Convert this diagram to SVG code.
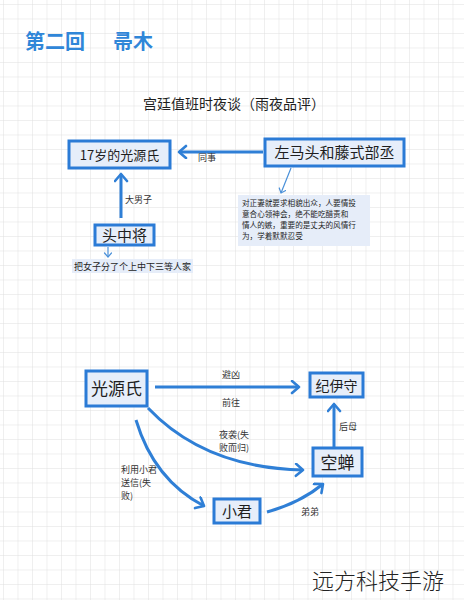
<svg xmlns="http://www.w3.org/2000/svg" width="464" height="600" viewBox="0 0 464 600">
<defs>
<pattern id="grid" width="14.5" height="14.5" patternUnits="userSpaceOnUse" x="3" y="4">
<path d="M14.5,0 L0,0 L0,14.5" fill="none" stroke="#e0e0e0" stroke-width="1"/>
</pattern>
<marker id="ah" markerUnits="userSpaceOnUse" markerWidth="16" markerHeight="16" refX="9" refY="7" orient="auto">
<path d="M2,1 L9,7 L2,13" fill="none" stroke="#2f7fd6" stroke-width="2.6" stroke-linecap="round" stroke-linejoin="round"/>
</marker>
<marker id="ahs" markerUnits="userSpaceOnUse" markerWidth="10" markerHeight="10" refX="5" refY="4" orient="auto">
<path d="M1,0.5 L5,4 L1,7.5" fill="none" stroke="#4a90d9" stroke-width="1.2" stroke-linecap="round"/>
</marker>
</defs>
<style>
.node rect{fill:#e6eefa;stroke:#2b7bd6;stroke-width:3}
.t{font-family:"Noto Sans CJK SC","Noto Sans",sans-serif;fill:#1e1e1e}
.lbl{font-family:"Noto Sans CJK SC","Noto Sans",sans-serif;fill:#333;font-size:9px}
.conn path{fill:none;stroke:#2f7fd6;stroke-width:3}
.conn path.thin{fill:none;stroke:#4a90d9;stroke-width:1.2}
.note{fill:#e6edf9}
</style>
<rect width="464" height="600" fill="#ffffff"/>
<rect width="464" height="600" fill="url(#grid)"/>

<text x="25" y="49" font-family="'Noto Sans CJK SC',sans-serif" font-size="20" font-weight="700" fill="#2f86d8">第二回</text>
<text x="113" y="49" font-family="'Noto Sans CJK SC',sans-serif" font-size="20" font-weight="700" fill="#2f86d8">帚木</text>
<text x="143" y="109" class="t" font-size="14">宫廷值班时夜谈（雨夜品评）</text>

<g id="n_genji17" class="node">
<rect x="69" y="141" width="101" height="27"/>
<text x="119.5" y="160" class="t" font-size="13" text-anchor="middle">17岁的光源氏</text>
</g>
<g id="n_zuomatou" class="node">
<rect x="265" y="139" width="139" height="27"/>
<text x="334.5" y="158" class="t" font-size="15" text-anchor="middle">左马头和藤式部丞</text>
</g>
<g id="n_touzhongjiang" class="node">
<rect x="95" y="225" width="59" height="20"/>
<text x="124.5" y="240.5" class="t" font-size="15" text-anchor="middle">头中将</text>
</g>
<g id="note_zuomatou">
<rect x="238" y="195" width="132" height="51" class="note"/>
<text class="t" font-size="7.6">
<tspan x="242" y="206">对正妻就要求相貌出众，人要情投</tspan>
<tspan x="242" y="217">意合心领神会，绝不能吃醋责和</tspan>
<tspan x="242" y="228">情人的嫉，重要的是丈夫的风情行</tspan>
<tspan x="242" y="239">为，学着默默忍受</tspan>
</text>
</g>
<g id="note_touzhongjiang">
<rect x="72" y="259" width="121" height="14" class="note"/>
<text x="74" y="270" class="t" font-size="9">把女子分了个上中下三等人家</text>
</g>

<g id="n_genji" class="node">
<rect x="86" y="371" width="61" height="35"/>
<text x="116.5" y="395" class="t" font-size="17" text-anchor="middle">光源氏</text>
</g>
<g id="n_kiinokami" class="node">
<rect x="310" y="373" width="53" height="24"/>
<text x="336.5" y="390.5" class="t" font-size="14" text-anchor="middle">纪伊守</text>
</g>
<g id="n_utsusemi" class="node">
<rect x="313" y="448" width="49" height="28"/>
<text x="337.5" y="468.5" class="t" font-size="17" text-anchor="middle">空蝉</text>
</g>
<g id="n_kogimi" class="node">
<rect x="214" y="499" width="46" height="24"/>
<text x="237" y="516.5" class="t" font-size="15" text-anchor="middle">小君</text>
</g>

<g id="connectors" class="conn">
<path d="M263,152 L179,152" marker-end="url(#ah)"/>
<path d="M121,218 L121,174" marker-end="url(#ah)"/>
<path d="M291,168 L281,193" class="thin" marker-end="url(#ahs)"/>
<path d="M108,247 L108,257" class="thin" marker-end="url(#ahs)"/>
<path d="M155,387 L299,387" marker-end="url(#ah)"/>
<path d="M334,447 L334,404" marker-end="url(#ah)"/>
<path d="M148,408 Q205,468 303,470" marker-end="url(#ah)"/>
<path d="M136,420 Q154,480 204,506" marker-end="url(#ah)"/>
<path d="M267,512 Q300,503 323,484" marker-end="url(#ah)"/>
<text x="198" y="161" class="lbl">同事</text>
<text x="125" y="203" class="lbl">大男子</text>
<text x="222" y="378" class="lbl">避凶</text>
<text x="222" y="406" class="lbl">前往</text>
<text x="339" y="430" class="lbl">后母</text>
<text class="lbl"><tspan x="219" y="438">夜袭(失</tspan><tspan x="219" y="451">败而归)</tspan></text>
<text class="lbl" font-size="8.5"><tspan x="121" y="473">利用小君</tspan><tspan x="121" y="486">送信(失</tspan><tspan x="121" y="499">败)</tspan></text>
<text x="301" y="515" class="lbl">弟弟</text>
</g>

<text x="312" y="589" font-family="'Noto Sans CJK SC',sans-serif" font-weight="300" font-size="22" fill="#222">远方科技手游</text>
</svg>
